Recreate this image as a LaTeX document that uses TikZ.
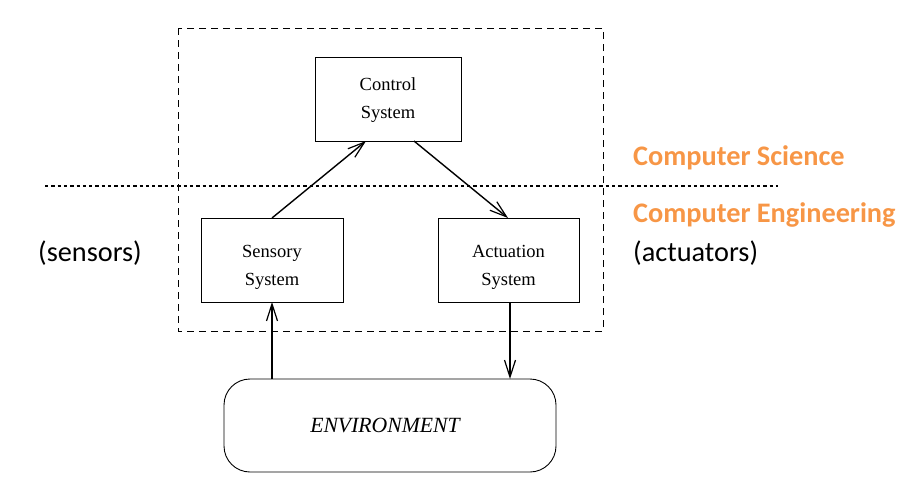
\documentclass[tikz,border=0pt]{standalone}
\usepackage{fontspec}
\setmainfont{Liberation Serif}
\newfontfamily\labelfont{Carlito}
\usetikzlibrary{arrows.meta}
\definecolor{csorange}{HTML}{F79646}
\tikzset{
  sysbox/.style={draw, line width=0.9pt, inner sep=0pt},
  systext/.style={inner sep=0pt, align=center, font=\fontsize{18.5}{28}\selectfont},
  flow/.style={line width=1.4pt, -{Straight Barb[length=17pt,width=11pt,line width=1.2pt]}},
  side/.style={anchor=west, inner sep=0pt, font=\labelfont\fontsize{28.3}{32}\selectfont},
  field/.style={side, text=csorange, font=\labelfont\bfseries\fontsize{28.3}{32}\selectfont}
}
\begin{document}
\begin{tikzpicture}[x=1pt,y=-1pt]
\useasboundingbox (0,0) rectangle (904,482);
\draw[line width=1pt, dash pattern=on 7pt off 5pt] (178,28) rectangle (603,331);
\draw[line width=1.1pt, dash pattern=on 3.3pt off 3pt] (45,186) -- (778,186);
\node[sysbox, minimum width=146pt, minimum height=84pt] (ctrl) at (388,99) {};
\node[sysbox, minimum width=142pt, minimum height=84pt] (sens) at (272,260) {};
\node[sysbox, minimum width=141pt, minimum height=84pt] (act) at (508.5,260) {};
\node[systext] (ctrlt) at ([yshift=-1pt]ctrl.center) {Control\\System};
\node[systext] (senst) at ([yshift=-7pt]sens.center) {Sensory\\System};
\node[systext] (actt) at ([yshift=-7pt]act.center) {Actuation\\System};
\node[draw, line width=0.9pt, rounded corners=26pt, minimum width=332pt, minimum height=93pt] (env) at (390,425.5) {};
\node[inner sep=0pt, font=\itshape\fontsize{21.7}{24}\selectfont] (envt) at ([xshift=-5pt]env.center) {ENVIRONMENT};
\coordinate (s1) at (272,218);
\coordinate (c1) at (366,141);
\coordinate (c2) at (414,141);
\coordinate (a1) at (508,218);
\coordinate (e1) at (272,379);
\coordinate (s2) at (272,302);
\coordinate (a2) at (510,302);
\coordinate (e2) at (510,379);
\draw[flow] (s1) -- (c1);
\draw[flow] (c2) -- (a1);
\draw[flow] (e1) -- (s2);
\draw[flow] (a2) -- (e2);
\node[field] (cs) at (633,158) {Computer Science};
\node[field] (ce) at (633,215) {Computer Engineering};
\node[side] (actl) at (633,253) {(actuators)};
\node[side] (sensl) at (38,253) {(sensors)};
\end{tikzpicture}
\end{document}
